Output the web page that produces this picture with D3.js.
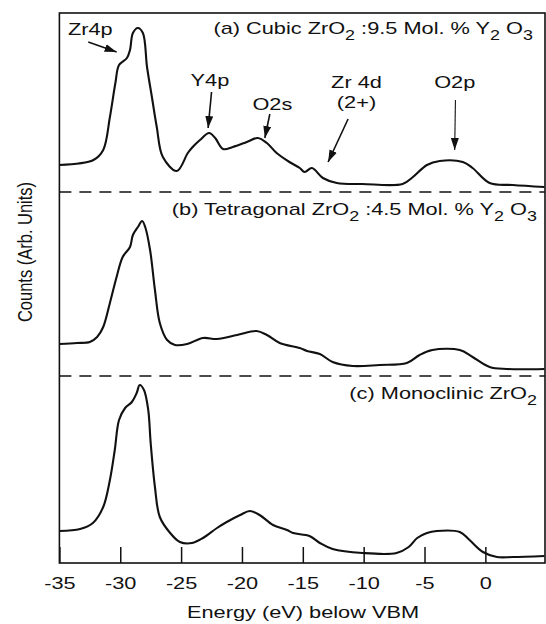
<!DOCTYPE html>
<html><head><meta charset="utf-8">
<script src="https://cdn.jsdelivr.net/npm/d3@7"></script>
<style>
body{margin:0;background:#fff}
svg{display:block}
text{font-family:"Liberation Sans",Arial,Helvetica,sans-serif;fill:#111}
</style>
</head><body><svg id="c" width="546" height="624"></svg>
<script>
// Energy (eV below VBM), counts (arb. units, stacked)
const cubic = [
  [-35.0,398],[-32.2,403],[-31.4,413],[-30.85,446],[-30.4,480],[-30.1,498],[-29.45,505],[-29.2,513],
  [-28.96,530],[-28.55,535],[-28.14,530],[-27.8,496],[-27.4,466],[-27.0,436],[-26.5,406],[-25.35,392],
  [-24.45,410],[-24.05,416],[-23.45,423],[-22.7,430],[-22.2,425],[-21.55,414],[-20.75,416],[-19.6,421],
  [-18.7,425],[-17.95,420],[-17.15,410],[-16.1,401],[-15.25,395],[-14.85,391],[-14.25,395],[-13.35,385],
  [-12.2,380],[-10.1,379],[-6.8,379],[-5.95,386],[-4.8,398],[-3.75,402],[-1.85,401],[-1.05,395],
  [0.35,380],[2.25,378],[4.85,376]
];
const tetragonal = [
  [-35.0,219],[-33.55,220],[-32.5,221],[-31.9,226],[-31.4,236],[-30.85,260],[-30.3,286],[-29.8,306],
  [-29.2,316],[-28.96,328],[-28.55,336],[-28.2,342],[-27.95,336],[-27.55,313],[-27.15,273],[-26.75,240],
  [-26.15,223],[-25.5,218],[-24.5,219],[-23.2,225],[-22.05,224],[-20.4,228],[-18.8,232],[-17.95,228],
  [-16.9,220],[-15.25,215],[-14.65,212],[-13.6,209],[-12.55,201],[-10.9,197],[-8.7,198],[-6.45,200],
  [-5.4,208],[-4.35,213],[-2.1,213],[-1.05,206],[0.35,196],[1.75,194],[4.85,194]
];
const monoclinic = [
  [-35.0,32],[-33.3,34],[-32.25,40],[-31.4,56],[-30.85,83],[-30.45,113],[-30.1,143],[-29.6,155],
  [-29.05,161],[-28.65,170],[-28.4,178],[-28.05,173],[-27.7,153],[-27.5,120],[-27.15,76],[-26.75,46],
  [-25.9,30],[-25.1,21],[-24.1,20],[-23.2,25],[-22.05,35],[-21.25,41],[-20.15,48],[-19.35,52],
  [-18.55,48],[-17.45,38],[-16.3,33],[-15.8,30],[-14.45,27],[-13.6,20],[-12.55,14],[-10.1,10],
  [-7.3,10],[-6.3,16],[-5.6,25],[-4.8,30],[-4.0,32],[-2.1,31],[-1.3,23],[-0.2,11],[0.95,6],
  [2.25,6],[4.85,7]
];
const spectra = [cubic, tetragonal, monoclinic];
const separators = [371, 187];
const xTicks = [-35,-30,-25,-20,-15,-10,-5,0];

// panel titles: pieces [text, isSubscript], anchored at (energy, count) end
const panelTitles = [
  {e:3.91, c:529, parts:[["(a) Cubic ZrO",0],["2",1],[" :9.5 Mol. % Y",0],["2",1],[" O",0],["3",1]]},
  {e:4.24, c:348, parts:[["(b) Tetragonal ZrO",0],["2",1],[" :4.5 Mol. % Y",0],["2",1],[" O",0],["3",1]]},
  {e:4.24, c:164, parts:[["(c) Monoclinic ZrO",0],["2",1]]}
];
// peak annotations: text lines at (energy,count); arrow from tail to tip
const peaks = [
  {lines:["Zr4p"], anchor:"start", e:-34.3, c:528, tail:[-32.63,521], tip:[-30.3,511], thin:false},
  {lines:["Y4p"], anchor:"middle", e:-22.63, c:477, tail:[-22.5,471], tip:[-22.78,435], thin:false},
  {lines:["O2s"], anchor:"middle", e:-17.5, c:453, tail:[-17.71,449], tip:[-18.12,425], thin:false},
  {lines:["Zr 4d","(2+)"], anchor:"middle", e:-10.59, c:475, tail:[-11.28,444], tip:[-12.92,401], thin:false},
  {lines:["O2p"], anchor:"middle", e:-2.52, c:475, tail:[-2.46,463], tip:[-2.52,413], thin:true}
];

const L=59.4, R=545, T=13, B=563, SX=1.28, FS=17;
const x = d3.scaleLinear().domain([-35,4.9]).range([L,R]);
const y = d3.scaleLinear().domain([0,550]).range([B,T]);
const svg = d3.select("#c");
const ink = "#111";

svg.append("defs").append("marker")
  .attr("id","ah").attr("markerUnits","userSpaceOnUse")
  .attr("markerWidth",14).attr("markerHeight",10).attr("refX",12).attr("refY",5)
  .attr("orient","auto")
  .append("path").attr("d","M0,1 L12,5 L0,9 Z").attr("fill",ink);

// separators
svg.selectAll("line.sep").data(separators).join("line").attr("class","sep")
  .attr("x1",x.range()[0]).attr("x2",x.range()[1])
  .attr("y1",d=>y(d)).attr("y2",d=>y(d))
  .attr("stroke",ink).attr("stroke-width",1.6).attr("stroke-dasharray","12,8");

// spectra
const line = d3.line().x(d=>x(d[0])).y(d=>y(d[1])).curve(d3.curveCatmullRom.alpha(0.5));
svg.selectAll("path.spec").data(spectra).join("path").attr("class","spec")
  .attr("d",line).attr("fill","none").attr("stroke",ink).attr("stroke-width",2.1)
  .attr("stroke-linejoin","round");

// frame
svg.append("rect").attr("x",L).attr("y",T).attr("width",R-L).attr("height",B-T)
  .attr("fill","none").attr("stroke",ink).attr("stroke-width",1.6);

// x axis
const xAxis = d3.axisBottom(x).tickValues(xTicks).tickSizeInner(-16).tickSizeOuter(0)
  .tickFormat(d=>String(d));
const gx = svg.append("g").attr("transform",`translate(0,${B})`).call(xAxis);
gx.attr("font-family",null).attr("font-size",null);
gx.select(".domain").remove();
gx.selectAll(".tick line").attr("stroke",ink).attr("stroke-width",1.5);
gx.selectAll(".tick text").attr("y",26).attr("dy",null).attr("font-size",FS)
  .attr("fill",ink).attr("transform",`scale(${SX},1)`);

// axis titles
svg.append("text").attr("transform",`translate(303,618) scale(${SX},1)`)
  .attr("text-anchor","middle").attr("font-size",FS).text("Energy (eV) below VBM");
svg.append("text").attr("transform",`translate(32,252) scale(${SX},1) rotate(-90)`)
  .attr("text-anchor","middle").attr("font-size",16.5).text("Counts (Arb. Units)");

// panel titles
panelTitles.forEach(p=>{
  const t = svg.append("text").attr("text-anchor","end").attr("font-size",FS)
    .attr("transform",`translate(${x(p.e)},${y(p.c)}) scale(${SX},1)`);
  let prevSub = 0;
  p.parts.forEach(([s,sub])=>{
    const ts = t.append("tspan").text(s).attr("font-size", sub?14:FS);
    if (sub !== prevSub) ts.attr("dy", sub?6:-6);
    prevSub = sub;
  });
});

// peak labels + arrows
peaks.forEach(p=>{
  const t = svg.append("text").attr("text-anchor",p.anchor).attr("font-size",FS)
    .attr("transform",`translate(${x(p.e)},${y(p.c)}) scale(${SX},1)`);
  p.lines.forEach((s,i)=>t.append("tspan").attr("x",0).attr("dy",i?20:0).text(s));
  svg.append("line")
    .attr("x1",x(p.tail[0])).attr("y1",y(p.tail[1]))
    .attr("x2",x(p.tip[0])).attr("y2",y(p.tip[1]))
    .attr("stroke",ink).attr("stroke-width",p.thin?1.1:1.6)
    .attr("marker-end","url(#ah)");
});
</script>
</body></html>
